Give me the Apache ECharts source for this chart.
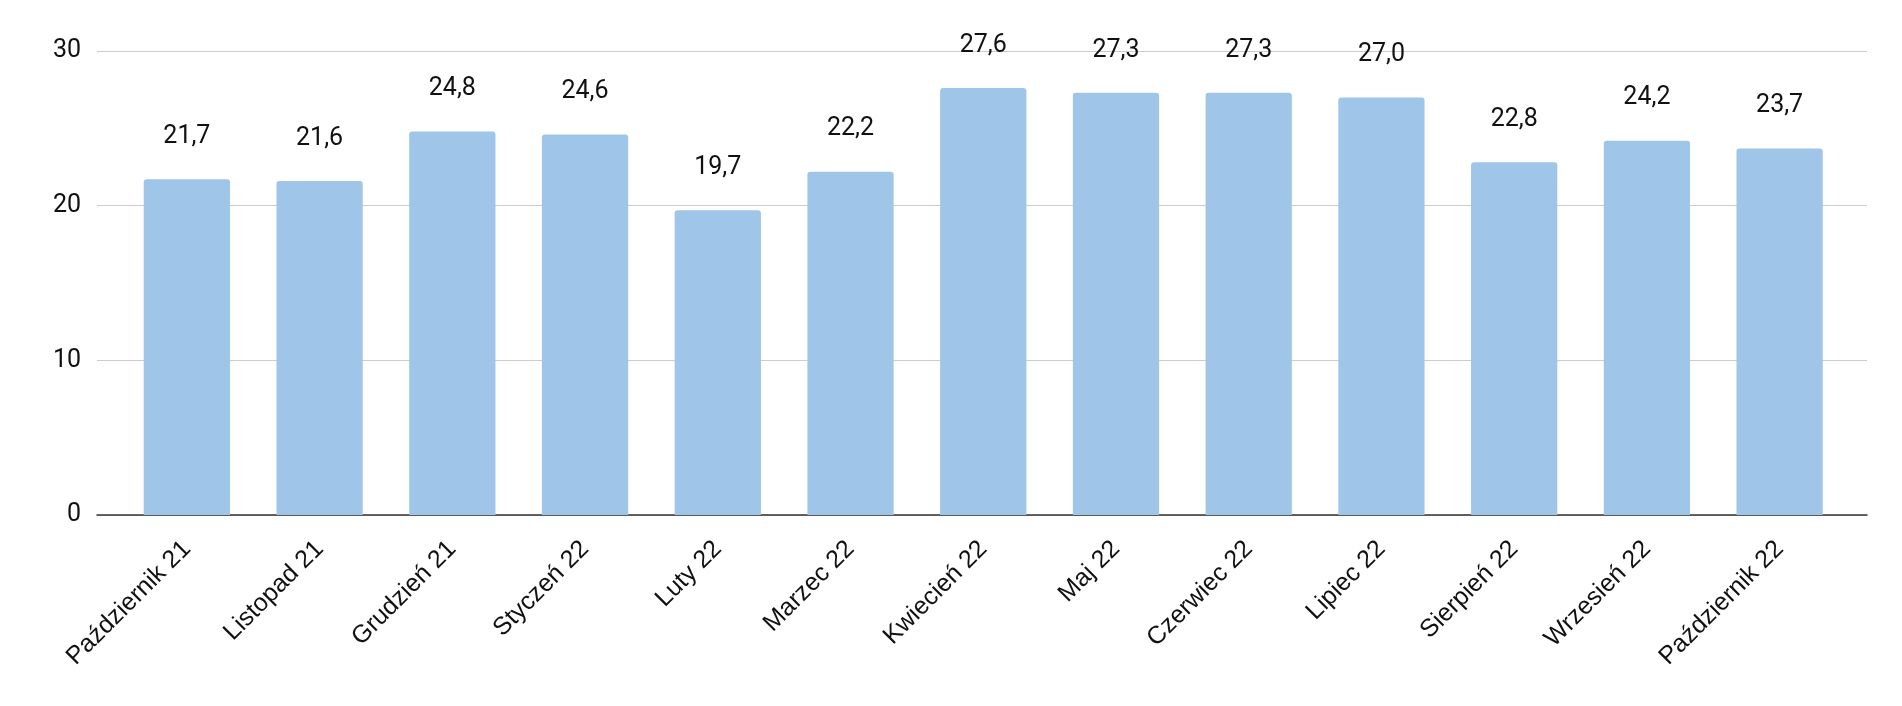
<!DOCTYPE html>
<html><head><meta charset="utf-8">
<script src="https://cdn.jsdelivr.net/npm/echarts@6/dist/echarts.min.js"></script>
<style>html,body{margin:0;padding:0;background:#fff}#c{width:1902px;height:706px}</style>
</head><body><div id="c"></div>
<script>
const categories = ['Październik 21','Listopad 21','Grudzień 21','Styczeń 22','Luty 22','Marzec 22','Kwiecień 22','Maj 22','Czerwiec 22','Lipiec 22','Sierpień 22','Wrzesień 22','Październik 22'];
const values = [21.7,21.6,24.8,24.6,19.7,22.2,27.6,27.3,27.3,27.0,22.8,24.2,23.7];
const yTicks = [0,10,20,30];

const chart = echarts.init(document.getElementById('c'));
const font = 'Roboto, "Noto Sans", sans-serif';
const catFont = '"Liberation Sans", Arial, sans-serif';
chart.setOption({
  animation:false,
  grid:[
    {left:97,right:35,top:51,bottom:191},
    {left:120.5,right:56,top:51,bottom:191}
  ],
  xAxis:[
    {gridIndex:0,type:'category',data:[''],axisLine:{show:true,lineStyle:{color:'#333',width:1.5}},axisTick:{show:false},axisLabel:{show:false}},
    {gridIndex:1,type:'category',data:categories,axisLine:{show:false},axisTick:{show:false},
     axisLabel:{rotate:45,interval:0,margin:30,fontSize:25,color:'#111',fontFamily:catFont}}
  ],
  yAxis:[
    {gridIndex:0,type:'value',min:yTicks[0],max:yTicks[yTicks.length-1],interval:10,
     axisLine:{show:false},axisTick:{show:false},
     splitLine:{lineStyle:{color:'#cccccc',width:1.2}},
     axisLabel:{margin:16,fontSize:25,color:'#111',fontFamily:font}},
    {gridIndex:1,type:'value',min:0,max:30,interval:10,show:false,splitLine:{show:false}}
  ],
  series:[{
    type:'bar',xAxisIndex:1,yAxisIndex:1,data:values,barWidth:'65%',
    itemStyle:{color:'#9fc5e8',borderRadius:[3,3,0,0]},
    label:{show:true,position:'top',distance:30,fontSize:25,color:'#111',fontFamily:font,
      formatter:p=>p.value.toFixed(1).replace('.',',')}
  }]
});
</script></body></html>
